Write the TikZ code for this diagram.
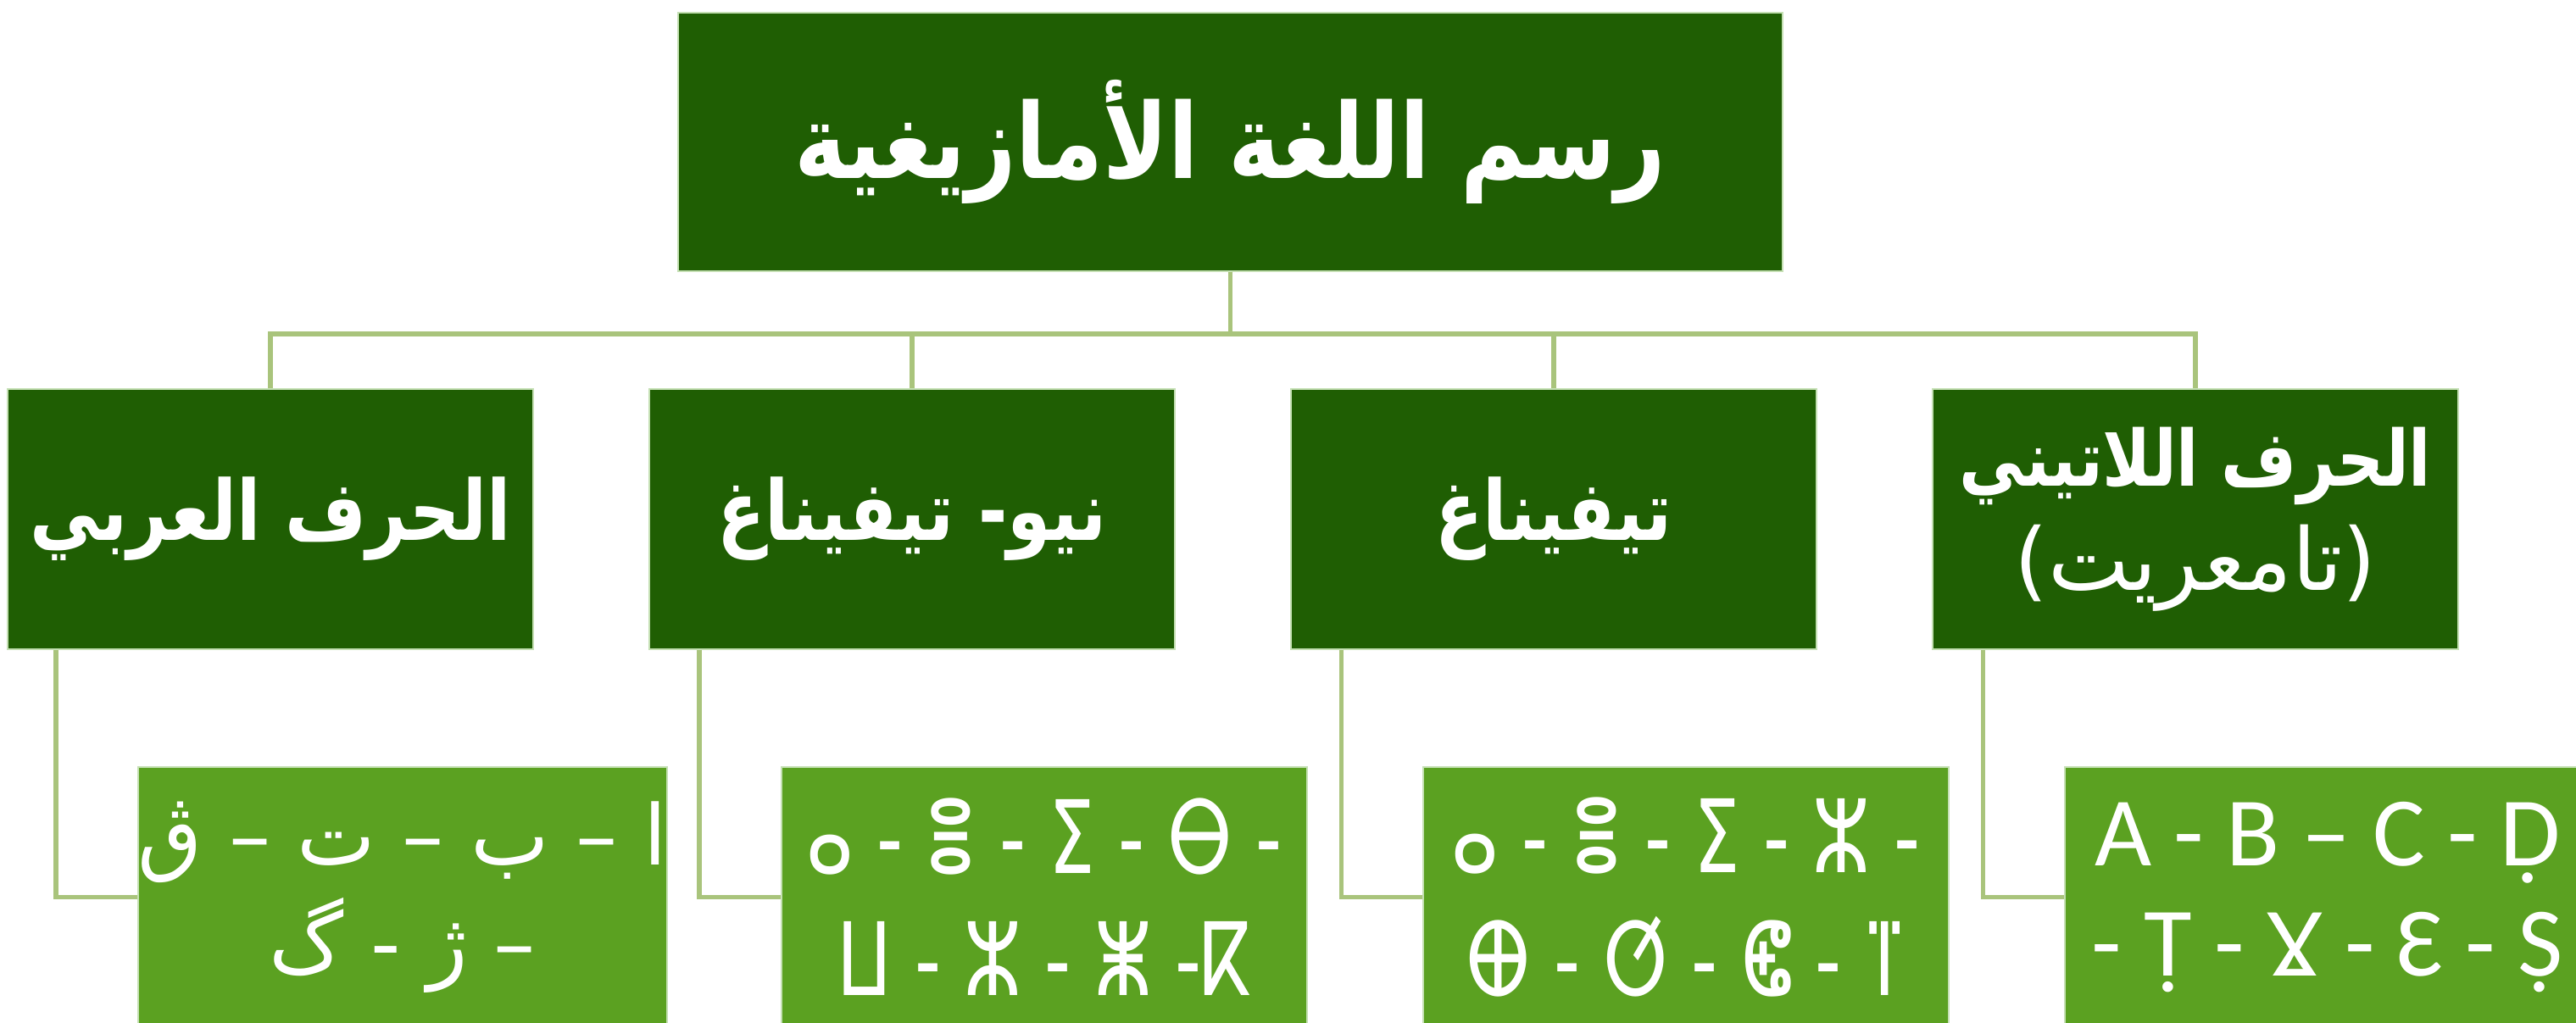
\documentclass[tikz,border=0pt]{standalone}
\usepackage{fontspec}
\newfontfamily\arabicfont[Script=Arabic]{DejaVu Sans}
\newfontfamily\arabichead[Script=Arabic,FakeStretch=0.84]{DejaVu Sans}
\newfontfamily\tifinaghfont[FakeStretch=0.72]{DejaVu Sans}
\newfontfamily\latinfont{Carlito}
\TeXXeTstate=1
\definecolor{darkleaf}{RGB}{31,94,3}
\definecolor{leaf}{RGB}{91,161,33}
\definecolor{stem}{RGB}{169,196,124}
\definecolor{rim}{RGB}{197,224,180}
\begin{document}
\begin{tikzpicture}[
  titlebox/.style={fill=darkleaf,draw=rim,line width=0.4pt,text=white,inner sep=0pt,align=center,minimum width=13.03cm,minimum height=3.05cm},
  scriptbox/.style={fill=darkleaf,draw=rim,line width=0.4pt,text=white,inner sep=0pt,align=center,minimum width=6.2cm,minimum height=3.07cm,font=\arabichead\bfseries\fontsize{28}{34}\selectfont},
  letterbox/.style={scriptbox,fill=leaf},
  link/.style={draw=stem,line width=1.6pt}
]
%\draw[step=1,gray](0,-12.07) grid (30.39,0);
\useasboundingbox (0,0) rectangle (30.39,-12.07);
\clip (0,0) rectangle (30.39,-12.07);
\node[titlebox,font=\arabichead\bfseries\fontsize{35}{40}\selectfont] (script) at (14.515,-1.675) {\beginR رسم اللغة الأمازيغية\endR};
\node[scriptbox] (arabic) at (3.19,-6.125) {\beginR الحرف العربي\endR};
\node[scriptbox] (neotif) at (10.76,-6.125) {\beginR نيو- تيفيناغ\endR};
\node[scriptbox] (tif) at (18.33,-6.125) {\beginR تيفيناغ\endR};
\node[scriptbox,font=\arabichead\bfseries\fontsize{26}{35}\selectfont] (latin) at (25.90,-6.125) {\beginR الحرف اللاتيني\endR\\{\arabicfont\mdseries\fontsize{29}{35}\selectfont)\beginR تامعريت\endR(}};
\node[letterbox,font=\arabicfont\fontsize{28}{36}\selectfont] (arabicl) at (4.75,-10.585) {\beginR ا – ب – ت – ڨ\endR\\\beginR – ژ - گ\endR};
\node[letterbox,font=\tifinaghfont\fontsize{34}{41}\selectfont] (neotifl) at (12.32,-10.585) {ⴰ - ⴻ - ⵉ - ⴱ -\\ⵡ - ⵣ - ⵥ -ⴽ};
\node[letterbox,font=\tifinaghfont\fontsize{34}{41}\selectfont] (tifl) at (19.89,-10.585) {ⴰ - ⴻ - ⵉ - ⵣ -\\ⴲ - ⵚ - ⵞ - ⴶ};
\node[letterbox,font=\latinfont\fontsize{33}{37}\selectfont] (latinl) at (27.46,-10.585) {A - B – C - Ḍ\\- Ṭ - Ɣ - Ɛ - Ṣ};
% connectors
\draw[link] (script.south) -- ++(0,-0.73) -| (arabic.north);
\draw[link] (script.south) -- ++(0,-0.73) -| (neotif.north);
\draw[link] (script.south) -- ++(0,-0.73) -| (tif.north);
\draw[link] (script.south) -- ++(0,-0.73) -| (latin.north);
\draw[link] ([xshift=0.58cm]arabic.south west) |- (arabicl.west);
\draw[link] ([xshift=0.6cm]neotif.south west) |- (neotifl.west);
\draw[link] ([xshift=0.6cm]tif.south west) |- (tifl.west);
\draw[link] ([xshift=0.6cm]latin.south west) |- (latinl.west);
\end{tikzpicture}
\end{document}
